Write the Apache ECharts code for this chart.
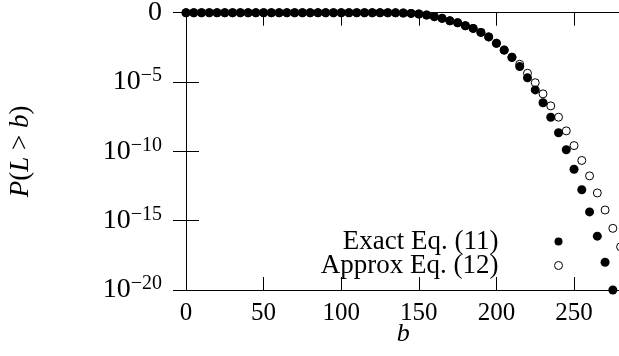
<!DOCTYPE html>
<html>
<head>
<meta charset="utf-8">
<script src="https://cdn.jsdelivr.net/npm/echarts@6/dist/echarts.min.js"></script>
<style>
  html, body { margin: 0; padding: 0; background: #fff; }
  #chart { width: 619px; height: 356px; }
</style>
</head>
<body>
<div id="chart"></div>
<script>
// b values (step 5)
var bExact = [0, 5, 10, 15, 20, 25, 30, 35, 40, 45, 50, 55, 60, 65, 70, 75, 80, 85, 90, 95,
    100, 105, 110, 115, 120, 125, 130, 135, 140, 145, 150, 155, 160, 165, 170, 175, 180, 185, 190, 195,
    200, 205, 210, 215, 220, 225, 230, 235, 240, 245, 250, 255, 260, 265, 270, 275];
var exactVals = [1, 1, 1, 1, 1, 1, 1, 1, 1, 1, 1, 1, 1, 1, 1, 1, 1, 1, 1, 1,
    1, 1, 1, 1, 1, 1, 0.99, 0.98, 0.95, 0.89, 0.81, 0.68, 0.52, 0.39, 0.26, 0.19, 0.115, 0.074, 0.038, 0.018,
    6.2e-3, 2.0e-3, 5.8e-4, 1.3e-4, 2.0e-5, 2.7e-6, 3.2e-7, 2.9e-8, 2.2e-9, 1.3e-10, 5.1e-12, 1.7e-13, 4.3e-15, 7.6e-17, 1.0e-18, 1.0e-20];

var bApprox = [210, 215, 220, 225, 230, 235, 240, 245, 250, 255, 260, 265, 270, 275, 280];
var approxVals = [6.3e-4, 1.9e-4, 4.3e-5, 8.9e-6, 1.4e-6, 1.9e-7, 2.9e-8, 3.0e-9, 2.6e-10, 2.2e-11, 1.7e-12, 1.0e-13, 5.9e-15, 2.8e-16, 1.3e-17];

var seriesNames = ['Exact Eq. (11)', 'Approx Eq. (12)'];

var chart = echarts.init(document.getElementById('chart'));

function pairs(xs, ys) {
    var out = [];
    for (var i = 0; i < xs.length; i++) out.push([xs[i], ys[i]]);
    return out;
}

// approx equals exact below b = 210
var approxData = pairs(bExact, exactVals).filter(function (p) { return p[0] < 210; })
    .concat(pairs(bApprox, approxVals));

var serif = 'Liberation Serif';

function yLabel(v) {
    if (v >= 0.5) return '0';
    var e = Math.round(Math.log10(v));
    return '10{s|\u2212' + (-e) + '}';
}

chart.setOption({
    animation: false,
    textStyle: { fontFamily: serif, color: '#000' },
    grid: { left: 186, top: 12.7, width: 434.6, height: 277.3, outerBoundsMode: 'none', containLabel: false },
    legend: {
        data: [
            { name: seriesNames[0], icon: 'circle', itemStyle: { color: '#000', opacity: 1 } },
            { name: seriesNames[1], icon: 'circle', itemStyle: { color: '#fff', borderColor: '#000', borderWidth: 1, opacity: 1 } }
        ],
        orient: 'vertical',
        align: 'right',
        right: 56,
        top: 228,
        padding: 0,
        itemGap: -3,
        itemWidth: 110,
        itemHeight: 8,
        textStyle: { fontFamily: serif, fontSize: 27, color: '#000', lineHeight: 24 }
    },
    xAxis: [{
        type: 'value',
        min: 0,
        max: 280,
        interval: 50,
        name: 'b',
        nameLocation: 'middle',
        nameGap: 31,
        nameMoveOverlap: false,
        nameTextStyle: { fontFamily: serif, fontSize: 26, fontStyle: 'italic', color: '#000' },
        axisLine: { lineStyle: { color: '#000', width: 1 } },
        axisTick: { inside: true, length: 13, lineStyle: { color: '#000' } },
        axisLabel: { fontFamily: serif, fontSize: 25, color: '#000', margin: 11, showMaxLabel: false },
        splitLine: { show: false }
    }, {
        type: 'value',
        position: 'top',
        min: 0,
        max: 280,
        interval: 50,
        axisLine: { lineStyle: { color: '#000', width: 1 } },
        axisTick: { inside: true, length: 13, lineStyle: { color: '#000' } },
        axisLabel: { show: false },
        splitLine: { show: false }
    }],
    yAxis: [{
        type: 'log',
        logBase: 10,
        min: 1e-20,
        max: 1,
        interval: 5,
        name: '{i|P}({i|L} > {i|b})',
        nameLocation: 'middle',
        nameGap: 152,
        nameMoveOverlap: false,
        nameTextStyle: {
            fontFamily: serif, fontSize: 27, color: '#000',
            rich: { i: { fontFamily: serif, fontSize: 27, fontStyle: 'italic' } }
        },
        axisLine: { lineStyle: { color: '#000', width: 1 } },
        axisTick: { inside: true, length: 13, lineStyle: { color: '#000' } },
        axisLabel: {
            fontFamily: serif, fontSize: 28, color: '#000', margin: 24,
            formatter: yLabel,
            rich: { s: { fontFamily: serif, fontSize: 20, padding: [0, 0, 12, 0] } }
        },
        splitLine: { show: false }
    }, {
        type: 'log',
        logBase: 10,
        position: 'right',
        min: 1e-20,
        max: 1,
        interval: 5,
        axisLine: { lineStyle: { color: '#000', width: 1 } },
        axisTick: { inside: true, length: 13, lineStyle: { color: '#000' } },
        axisLabel: { show: false },
        splitLine: { show: false }
    }],
    series: [{
        name: seriesNames[1],
        type: 'scatter',
        symbol: 'circle',
        symbolSize: 8,
        z: 2,
        itemStyle: { color: '#fff', borderColor: '#000', borderWidth: 1, opacity: 1 },
        data: approxData
    }, {
        name: seriesNames[0],
        type: 'scatter',
        symbol: 'circle',
        symbolSize: 9,
        z: 3,
        itemStyle: { color: '#000', opacity: 1 },
        data: pairs(bExact, exactVals)
    }]
});
</script>
</body>
</html>
